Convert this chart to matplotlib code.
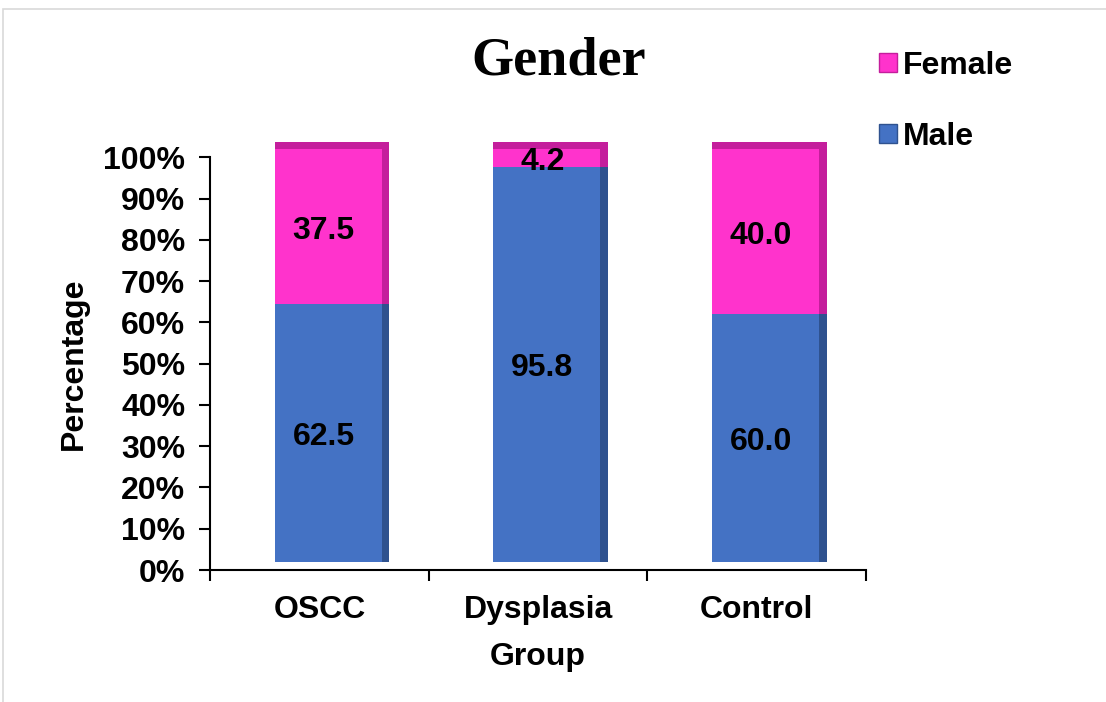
import matplotlib.pyplot as plt
import matplotlib.transforms as mtransforms
import numpy as np
from matplotlib.patches import Patch, Rectangle

groups = ["OSCC", "Dysplasia", "Control"]
male = [62.5, 95.8, 60.0]
female = [37.5, 4.2, 40.0]
yticks = [0, 10, 20, 30, 40, 50, 60, 70, 80, 90, 100]

BLUE = "#4472C4"
BLUE_DARK = "#2F528F"
PINK = "#FF33CC"
PINK_DARK = "#C41E9C"
FS = 23

plt.rcParams["font.family"] = ["Liberation Sans", "DejaVu Sans"]
plt.rcParams["font.weight"] = "bold"

fig = plt.figure(figsize=(11.06, 7.02), dpi=100)
ax = fig.add_axes([0.19, 0.188, 0.593, 0.588])

# 3-D look: front faces sit a few pixels up from the floor
lift = mtransforms.offset_copy(ax.transData, fig=fig, x=0, y=8, units="dots")
text_lift = mtransforms.offset_copy(ax.transData, fig=fig, x=0, y=4, units="dots")

x = np.arange(len(groups))
w = 0.49
side = 0.035
cx = x + 0.04

bars = []
bars += ax.bar(cx, male, w, color=BLUE, zorder=2, clip_on=False)
bars += ax.bar(cx, female, w, bottom=male, color=PINK, zorder=2, clip_on=False)
# darker side strip for depth
bars += ax.bar(cx + w / 2 + side / 2, male, side, color=BLUE_DARK, zorder=2, clip_on=False)
bars += ax.bar(cx + w / 2 + side / 2, female, side, bottom=male, color=PINK_DARK,
               zorder=2, clip_on=False)
# top rim
bars += ax.bar(cx + side / 2, [1.8] * 3, w + side, bottom=[m + f for m, f in zip(male, female)],
               color=PINK_DARK, zorder=1, clip_on=False)
for b in bars:
    b.set_transform(lift)

for i in range(len(groups)):
    ax.text(x[i] + 0.02, male[i] / 2, f"{male[i]:.1f}", ha="center", va="center",
            fontsize=FS, fontweight="bold", zorder=3, transform=text_lift)
    ax.text(x[i] + 0.02, male[i] + female[i] / 2, f"{female[i]:.1f}", ha="center",
            va="center", fontsize=FS, fontweight="bold", zorder=3, transform=text_lift)

ax.set_xlim(-0.5, 2.5)
ax.set_ylim(0, 100)
ax.set_yticks(yticks)
ax.set_yticklabels([f"{t}%" for t in yticks], fontsize=FS, fontweight="bold")
ax.set_xticks([-0.5, 0.5, 1.5, 2.5], minor=False)
ax.set_xticklabels([])
ax.set_xticks(x, minor=True)
ax.set_xticklabels(groups, minor=True, fontsize=FS, fontweight="bold")
ax.tick_params(axis="x", which="minor", length=0, pad=18)
ax.tick_params(axis="x", which="major", length=8, width=1.5, direction="out")
ax.tick_params(axis="y", length=8, width=1.5, direction="out", pad=10)

for s in ["top", "right"]:
    ax.spines[s].set_visible(False)
ax.spines["left"].set_linewidth(1.5)
ax.spines["bottom"].set_linewidth(1.5)

ax.set_ylabel("Percentage", fontsize=FS, fontweight="bold", labelpad=10)
ax.set_xlabel("Group", fontsize=FS, fontweight="bold", labelpad=12)

fig.text(0.505, 0.912, "Gender", ha="center", va="center", fontsize=39,
         fontweight="bold", family=["Liberation Serif", "DejaVu Serif"])

handles = [Patch(facecolor=PINK, edgecolor=PINK_DARK, label="Female"),
           Patch(facecolor=BLUE, edgecolor=BLUE_DARK, label="Male")]
fig.legend(handles=handles, loc="upper left", bbox_to_anchor=(0.769, 0.969),
           frameon=False, handlelength=0.55, handleheight=0.55,
           handletextpad=0.2, labelspacing=1.3, prop={"weight": "bold", "size": FS})

# thin grey frame around the chart area
fig.patches.append(Rectangle((0.003, -0.05), 1.1, 1.037, transform=fig.transFigure,
                             fill=False, edgecolor="#D9D9D9", linewidth=1.2))

fig.savefig("out.png", dpi=100)
